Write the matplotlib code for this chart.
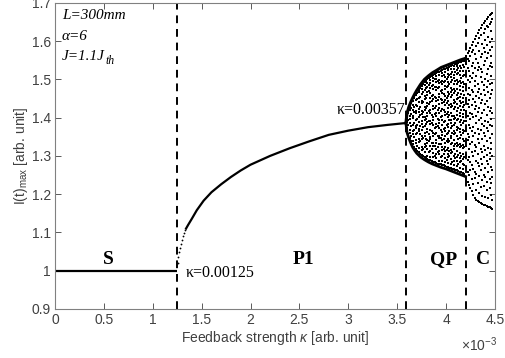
import matplotlib
matplotlib.use("Agg")
import matplotlib.pyplot as plt

plt.rcParams['mathtext.fontset'] = 'custom'
plt.rcParams['mathtext.rm'] = 'Liberation Sans'
plt.rcParams['mathtext.it'] = 'Liberation Sans:italic'

# ---------------- data (kappa in units of 1e-3) ----------------
s_kappa = [0.0, 1.25]
s_I = [1.0, 1.0]

p1_dot_kappa = [1.255, 1.26, 1.27, 1.28, 1.29, 1.30, 1.31, 1.32, 1.33]
p1_dot_I = [1.020, 1.035, 1.048, 1.060, 1.070, 1.080, 1.090, 1.098, 1.106]

p1_kappa = [1.34, 1.36, 1.40, 1.45, 1.52, 1.60, 1.70, 1.80, 1.90, 2.00, 2.20, 2.40,
            2.60, 2.80, 3.00, 3.20, 3.40, 3.59]
p1_I = [1.110, 1.119, 1.136, 1.158, 1.183, 1.205, 1.226, 1.245, 1.262, 1.277, 1.300, 1.320,
        1.338, 1.355, 1.366, 1.375, 1.381, 1.386]

env_kappa = [3.59, 3.60, 3.62, 3.64, 3.66, 3.68, 3.70, 3.74, 3.78, 3.82, 3.86, 3.90, 3.95, 4.00, 4.05, 4.10, 4.15, 4.20]
env_upper = [1.386, 1.410, 1.428, 1.441, 1.452, 1.462, 1.471, 1.487, 1.500, 1.509, 1.517, 1.523, 1.531, 1.536, 1.541, 1.546, 1.551, 1.555]
env_lower = [1.386, 1.362, 1.346, 1.333, 1.322, 1.314, 1.307, 1.297, 1.290, 1.284, 1.279, 1.275, 1.270, 1.266, 1.261, 1.256, 1.251, 1.246]

qp_kappa = [3.60, 3.63, 3.66, 3.69, 3.72, 3.75, 3.78, 3.81, 3.84, 3.87,
            3.90, 3.93, 3.96, 3.99, 4.02, 4.05, 4.08, 4.11, 4.14, 4.17]
qp_I = [
    [1.366, 1.374, 1.389, 1.397, 1.404],
    [1.347, 1.361, 1.368, 1.385, 1.396, 1.403, 1.419, 1.427],
    [1.330, 1.339, 1.358, 1.364, 1.380, 1.398, 1.405, 1.421, 1.432, 1.444],
    [1.317, 1.333, 1.341, 1.356, 1.372, 1.378, 1.395, 1.411, 1.417, 1.434, 1.446, 1.458],
    [1.309, 1.320, 1.336, 1.344, 1.365, 1.371, 1.389, 1.402, 1.415, 1.423, 1.441, 1.452, 1.466, 1.472],
    [1.303, 1.316, 1.324, 1.343, 1.351, 1.368, 1.383, 1.390, 1.409, 1.418, 1.437, 1.444, 1.462, 1.475, 1.483],
    [1.297, 1.309, 1.322, 1.331, 1.352, 1.360, 1.377, 1.394, 1.401, 1.420, 1.428, 1.449, 1.456, 1.473, 1.486, 1.493],
    [1.292, 1.301, 1.318, 1.335, 1.341, 1.362, 1.370, 1.388, 1.404, 1.411, 1.431, 1.439, 1.458, 1.466, 1.481, 1.491, 1.500],
    [1.289, 1.298, 1.314, 1.325, 1.344, 1.350, 1.369, 1.383, 1.392, 1.413, 1.420, 1.440, 1.451, 1.465, 1.477, 1.490, 1.498, 1.506],
    [1.285, 1.296, 1.307, 1.326, 1.333, 1.353, 1.361, 1.380, 1.395, 1.402, 1.422, 1.431, 1.448, 1.460, 1.474, 1.486, 1.495, 1.504, 1.511],
    [1.282, 1.294, 1.305, 1.318, 1.334, 1.342, 1.360, 1.375, 1.384, 1.403, 1.413, 1.430, 1.443, 1.452, 1.471, 1.479, 1.494, 1.501, 1.510, 1.516],
    [1.279, 1.288, 1.304, 1.313, 1.331, 1.346, 1.353, 1.372, 1.386, 1.394, 1.413, 1.425, 1.436, 1.455, 1.463, 1.480, 1.490, 1.499, 1.511, 1.520],
    [1.277, 1.286, 1.299, 1.315, 1.322, 1.341, 1.354, 1.363, 1.382, 1.395, 1.405, 1.422, 1.437, 1.445, 1.464, 1.472, 1.488, 1.497, 1.508, 1.517, 1.524],
    [1.274, 1.285, 1.294, 1.312, 1.324, 1.333, 1.351, 1.364, 1.374, 1.392, 1.406, 1.415, 1.433, 1.447, 1.456, 1.474, 1.483, 1.497, 1.506, 1.518, 1.527],
    [1.271, 1.281, 1.296, 1.305, 1.321, 1.336, 1.344, 1.361, 1.376, 1.384, 1.401, 1.416, 1.426, 1.443, 1.457, 1.466, 1.484, 1.493, 1.507, 1.515, 1.524, 1.531],
    [1.268, 1.278, 1.291, 1.307, 1.316, 1.331, 1.346, 1.353, 1.372, 1.385, 1.395, 1.412, 1.427, 1.435, 1.453, 1.467, 1.477, 1.492, 1.505, 1.513, 1.526, 1.534],
    [1.265, 1.276, 1.288, 1.300, 1.317, 1.325, 1.342, 1.356, 1.365, 1.382, 1.397, 1.405, 1.423, 1.437, 1.447, 1.464, 1.476, 1.488, 1.503, 1.512, 1.527, 1.536],
    [1.262, 1.273, 1.287, 1.297, 1.312, 1.327, 1.335, 1.352, 1.367, 1.376, 1.393, 1.408, 1.417, 1.435, 1.448, 1.458, 1.475, 1.489, 1.498, 1.514, 1.525, 1.534, 1.541],
    [1.259, 1.269, 1.284, 1.294, 1.308, 1.322, 1.332, 1.347, 1.362, 1.371, 1.389, 1.403, 1.413, 1.430, 1.444, 1.453, 1.471, 1.484, 1.495, 1.511, 1.522, 1.536, 1.545],
    [1.256, 1.267, 1.280, 1.292, 1.304, 1.320, 1.329, 1.345, 1.360, 1.369, 1.386, 1.401, 1.410, 1.428, 1.441, 1.452, 1.469, 1.481, 1.494, 1.509, 1.521, 1.537, 1.548],
]

qp_kappa_b = [3.615, 3.645, 3.675, 3.705, 3.735, 3.765, 3.795, 3.825, 3.855, 3.885,
              3.915, 3.945, 3.975, 4.005, 4.035, 4.065, 4.095, 4.125, 4.155, 4.185]
qp_I_b = [
    [1.357, 1.381, 1.393, 1.412],
    [1.338, 1.352, 1.377, 1.409, 1.424, 1.437],
    [1.323, 1.349, 1.369, 1.386, 1.414, 1.427, 1.451],
    [1.313, 1.327, 1.360, 1.382, 1.397, 1.431, 1.448, 1.465],
    [1.306, 1.339, 1.357, 1.378, 1.406, 1.429, 1.455, 1.478],
    [1.300, 1.318, 1.347, 1.375, 1.401, 1.414, 1.442, 1.467, 1.488],
    [1.295, 1.326, 1.345, 1.383, 1.397, 1.426, 1.451, 1.477, 1.497],
    [1.290, 1.311, 1.338, 1.357, 1.391, 1.418, 1.435, 1.470, 1.485, 1.503],
    [1.286, 1.319, 1.334, 1.366, 1.387, 1.408, 1.444, 1.456, 1.483, 1.509],
    [1.283, 1.301, 1.327, 1.358, 1.372, 1.409, 1.426, 1.453, 1.481, 1.500, 1.514],
    [1.280, 1.310, 1.323, 1.351, 1.378, 1.397, 1.421, 1.446, 1.478, 1.495, 1.518],
    [1.278, 1.297, 1.331, 1.348, 1.367, 1.401, 1.418, 1.450, 1.470, 1.493, 1.522],
    [1.275, 1.305, 1.318, 1.344, 1.370, 1.389, 1.419, 1.441, 1.461, 1.492, 1.512, 1.526],
    [1.272, 1.290, 1.316, 1.340, 1.357, 1.382, 1.410, 1.437, 1.451, 1.479, 1.502, 1.529],
    [1.269, 1.299, 1.313, 1.339, 1.366, 1.393, 1.408, 1.434, 1.462, 1.488, 1.511, 1.533],
    [1.266, 1.285, 1.310, 1.335, 1.361, 1.377, 1.403, 1.430, 1.458, 1.471, 1.499, 1.520, 1.537],
    [1.263, 1.294, 1.305, 1.331, 1.359, 1.387, 1.400, 1.428, 1.441, 1.469, 1.496, 1.518, 1.540],
    [1.260, 1.279, 1.302, 1.329, 1.344, 1.372, 1.397, 1.425, 1.452, 1.465, 1.493, 1.517, 1.531, 1.543],
    [1.257, 1.288, 1.299, 1.327, 1.355, 1.381, 1.394, 1.421, 1.437, 1.462, 1.491, 1.503, 1.529, 1.546],
    [1.254, 1.275, 1.298, 1.324, 1.339, 1.366, 1.392, 1.419, 1.433, 1.459, 1.488, 1.512, 1.532, 1.549],
]

c_kappa = [4.205, 4.220, 4.235, 4.250, 4.265, 4.280, 4.295, 4.310, 4.325, 4.340,
           4.355, 4.370, 4.385, 4.400, 4.415, 4.430, 4.445, 4.460, 4.475]
c_I = [
    [1.243, 1.271, 1.302, 1.327, 1.366, 1.392, 1.418, 1.451, 1.487, 1.512, 1.539, 1.560],
    [1.232, 1.258, 1.289, 1.341, 1.358, 1.404, 1.436, 1.463, 1.498, 1.531, 1.552, 1.568],
    [1.225, 1.249, 1.296, 1.318, 1.349, 1.381, 1.427, 1.445, 1.478, 1.521, 1.547, 1.575],
    [1.217, 1.262, 1.284, 1.330, 1.372, 1.397, 1.412, 1.459, 1.492, 1.508, 1.561, 1.583],
    [1.207, 1.239, 1.276, 1.311, 1.337, 1.364, 1.409, 1.433, 1.471, 1.503, 1.536, 1.571, 1.590],
    [1.199, 1.226, 1.267, 1.299, 1.352, 1.376, 1.401, 1.448, 1.466, 1.517, 1.544, 1.578, 1.598],
    [1.191, 1.243, 1.259, 1.314, 1.329, 1.361, 1.422, 1.440, 1.483, 1.496, 1.529, 1.566, 1.605],
    [1.186, 1.212, 1.253, 1.288, 1.323, 1.386, 1.405, 1.431, 1.457, 1.509, 1.553, 1.587, 1.613],
    [1.182, 1.229, 1.281, 1.306, 1.345, 1.371, 1.415, 1.468, 1.489, 1.524, 1.542, 1.596, 1.620],
    [1.180, 1.204, 1.247, 1.273, 1.334, 1.356, 1.393, 1.426, 1.451, 1.476, 1.533, 1.574, 1.608, 1.628],
    [1.177, 1.219, 1.263, 1.292, 1.317, 1.368, 1.399, 1.438, 1.462, 1.505, 1.527, 1.559, 1.617, 1.635],
    [1.175, 1.196, 1.236, 1.278, 1.309, 1.343, 1.384, 1.411, 1.447, 1.493, 1.518, 1.566, 1.592, 1.642],
    [1.173, 1.221, 1.251, 1.297, 1.326, 1.359, 1.378, 1.420, 1.473, 1.485, 1.538, 1.581, 1.621, 1.648],
    [1.171, 1.192, 1.244, 1.268, 1.315, 1.351, 1.392, 1.436, 1.458, 1.502, 1.549, 1.572, 1.603, 1.631, 1.653],
    [1.169, 1.210, 1.233, 1.286, 1.303, 1.339, 1.374, 1.407, 1.443, 1.479, 1.514, 1.557, 1.589, 1.640, 1.658],
    [1.167, 1.189, 1.257, 1.279, 1.321, 1.364, 1.388, 1.429, 1.466, 1.497, 1.526, 1.568, 1.612, 1.637, 1.663],
    [1.166, 1.215, 1.239, 1.292, 1.308, 1.347, 1.381, 1.417, 1.452, 1.487, 1.535, 1.577, 1.598, 1.645, 1.667],
    [1.164, 1.198, 1.228, 1.271, 1.318, 1.335, 1.397, 1.424, 1.461, 1.508, 1.543, 1.562, 1.626, 1.651, 1.671],
    [1.161, 1.185, 1.246, 1.264, 1.299, 1.357, 1.378, 1.413, 1.471, 1.491, 1.532, 1.584, 1.606, 1.658, 1.673],
]

boundaries = [1.25, 3.59, 4.20]

x_ticks = [0, 0.5, 1, 1.5, 2, 2.5, 3, 3.5, 4, 4.5]
x_tick_labels = ["0", "0.5", "1", "1.5", "2", "2.5", "3", "3.5", "4", "4.5"]
y_ticks = [0.9, 1.0, 1.1, 1.2, 1.3, 1.4, 1.5, 1.6, 1.7]
y_tick_labels = ["0.9", "1", "1.1", "1.2", "1.3", "1.4", "1.5", "1.6", "1.7"]

# ---------------- figure ----------------
fig = plt.figure(figsize=(5.05, 3.58), dpi=100)
ax = fig.add_axes([0.109, 0.137, 0.871, 0.855])

gray = "#404040"
ms = 1.5

ax.plot(s_kappa, s_I, color="k", lw=1.6, solid_capstyle="butt")
ax.plot(p1_dot_kappa, p1_dot_I, ls="none", marker="o", ms=1.3, color="k", mew=0)
ax.plot(p1_kappa, p1_I, color="k", lw=1.6)

for kk, vv in ((qp_kappa, qp_I), (qp_kappa_b, qp_I_b), (c_kappa, c_I)):
    for k, vals in zip(kk, vv):
        ax.plot([k] * len(vals), vals, ls="none", marker="s", ms=ms, color="k", mew=0)
ax.plot(env_kappa, env_upper, color="k", lw=2.2)
ax.plot(env_kappa, env_lower, color="k", lw=2.0)

for b in boundaries:
    ax.axvline(b, color="k", lw=1.4, ls=(0, (4, 3)))

ax.set_xlim(0, 4.5)
ax.set_ylim(0.9, 1.7)
ax.set_xticks(x_ticks)
ax.set_xticklabels(x_tick_labels)
ax.set_yticks(y_ticks)
ax.set_yticklabels(y_tick_labels)
ax.tick_params(direction="in", top=True, right=True, length=4, width=0.6,
               colors=gray, labelsize=10, labelcolor=gray, pad=3)
for sp in ax.spines.values():
    sp.set_color("#808080")
    sp.set_linewidth(0.8)
for lab in ax.get_xticklabels() + ax.get_yticklabels():
    lab.set_family("Liberation Sans")

ax.set_xlabel(r"Feedback strength $\kappa$ [arb. unit]", fontsize=10, color=gray,
              family="Liberation Sans", labelpad=1)
ax.set_ylabel(r"I(t)$_{\rm max}$ [arb. unit]", fontsize=10, color=gray,
              family="Liberation Sans", labelpad=1)
fig.text(0.985, 0.012, r"$\times$10$^{-3}$", ha="right", va="bottom", fontsize=10,
         color=gray, family="Liberation Sans")

serif = "Liberation Serif"
ax.text(0.07, 1.666, "L=300mm", fontsize=11, style="italic", family=serif, va="center")
ax.text(0.07, 1.611, "α=6", fontsize=11, style="italic", family=serif, va="center")
tj = ax.text(0.07, 1.559, "J=1.1J", fontsize=11, style="italic", family=serif, va="center")
ax.annotate("th", xy=(1, 0.2), xycoords=tj, xytext=(0.5, 0), textcoords="offset points",
            fontsize=8.5, style="italic", family=serif, ha="left", va="center")

ax.text(0.55, 1.03, "S", fontsize=14, weight="bold", family=serif, ha="center", va="center")
ax.text(2.54, 1.03, "P1", fontsize=14, weight="bold", family=serif, ha="center", va="center")
ax.text(3.97, 1.03, "QP", fontsize=14, weight="bold", family=serif, ha="center", va="center")
ax.text(4.38, 1.03, "C", fontsize=14, weight="bold", family=serif, ha="center", va="center")

ax.text(1.34, 0.995, "κ=0.00125", fontsize=11.5, family=serif, ha="left", va="center")
ax.text(3.58, 1.42, "κ=0.00357", fontsize=11.5, family=serif, ha="right", va="center")

fig.savefig("out.png", dpi=100)
